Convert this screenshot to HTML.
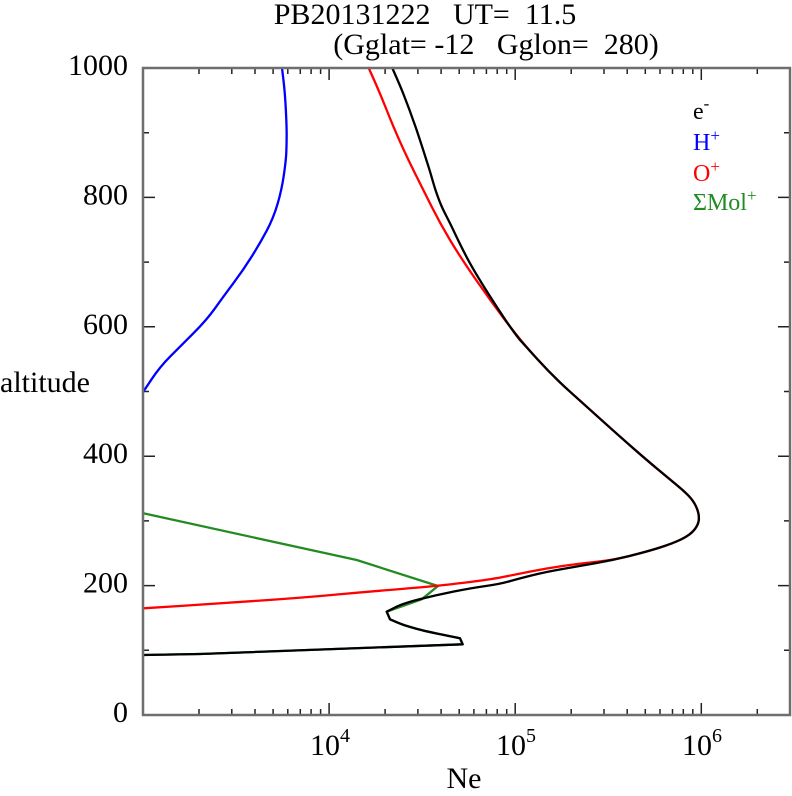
<!DOCTYPE html>
<html><head><meta charset="utf-8"><style>
html,body{margin:0;padding:0;background:#fff;}
svg{display:block;}
text{font-family:"Liberation Serif","Times New Roman",serif;fill:#000;}
</style></head><body>
<svg width="792" height="796" viewBox="0 0 792 796" xmlns="http://www.w3.org/2000/svg">
<rect width="792" height="796" fill="#fff"/>
<!-- titles -->
<text x="425" y="24" font-size="30" text-anchor="middle" style="white-space:pre">PB20131222   UT=  11.5</text>
<text x="496" y="54" font-size="30" text-anchor="middle" style="white-space:pre">(Gglat= -12   Gglon=  280)</text>

<!-- ticks -->
<g stroke="#222" stroke-width="1.5" fill="none">
<path d="M199 715v-6M231.8 715v-6M255 715v-6M273.1 715v-6M287.8 715v-6M300.3 715v-6M311.1 715v-6M320.6 715v-6
M385.1 715v-6M417.9 715v-6M441.1 715v-6M459.2 715v-6M473.9 715v-6M486.4 715v-6M497.2 715v-6M506.7 715v-6
M571.2 715v-6M604 715v-6M627.2 715v-6M645.3 715v-6M660 715v-6M672.5 715v-6M683.3 715v-6M692.8 715v-6M757.3 715v-6
M199 68v6M231.8 68v6M255 68v6M273.1 68v6M287.8 68v6M300.3 68v6M311.1 68v6M320.6 68v6
M385.1 68v6M417.9 68v6M441.1 68v6M459.2 68v6M473.9 68v6M486.4 68v6M497.2 68v6M506.7 68v6
M571.2 68v6M604 68v6M627.2 68v6M645.3 68v6M660 68v6M672.5 68v6M683.3 68v6M692.8 68v6M757.3 68v6"/>
<path d="M329.1 715v-12M515.2 715v-12M701.3 715v-12M329.1 68v12M515.2 68v12M701.3 68v12"/>
<path d="M143 650.3h6M143 520.9h6M143 391.5h6M143 262.1h6M143 132.7h6
M790 650.3h-6M790 520.9h-6M790 391.5h-6M790 262.1h-6M790 132.7h-6"/>
<path d="M143 585.6h12M143 456.2h12M143 326.8h12M143 197.4h12
M790 585.6h-12M790 456.2h-12M790 326.8h-12M790 197.4h-12"/>
</g>

<!-- curves -->
<g fill="none" stroke-width="2.3" stroke-linejoin="round" stroke-linecap="round">
<path stroke="#0000ff" d="M282,68 L283.5,80.5 Q285,93 285.85,109.85 Q286.7,126.7 286.65,135.85 Q286.6,145 286.3,152.5 Q286,160 283.85,175 Q281.7,190 277.5,204.15 Q273.3,218.3 266.65,230.8 Q260,243.3 251.65,256.65 Q243.3,270 233.3,283.35 Q223.3,296.7 215,308.35 Q206.7,320 193.35,333.35 Q180,346.7 170,356.7 Q160,366.7 151.65,379.2 L143.3,391.7"/>
<polyline stroke="#228b22" points="143.3,513.3 356.7,560 438,586 421.7,599.3 386.7,611.7 390,619.3 403.3,625 423.3,630.7 460,638.3 462.7,644.3 200,654 143.3,655"/>
<path stroke="#ff0000" d="M368.7,68 L374.35,80.65 Q380,93.3 386.65,110 Q393.3,126.7 400,141.7 Q406.7,156.7 415,173.35 Q423.3,190 431.65,206.65 Q440,223.3 450,240 Q460,256.7 475,278.35 Q490,300 505,320 Q520,340 536.65,358.35 Q553.3,376.7 570,391.7 Q586.7,406.7 603.35,421.7 Q620,436.7 633.35,448.35 Q646.7,460 656.7,468.35 Q666.7,476.7 676.7,485 Q686.7,493.3 690.85,498.3 Q695,503.3 697.15,509.15 Q699.3,515 698.8,520 Q698.3,525 694.15,530 Q690,535 681.65,539.15 Q673.3,543.3 660,547.5 Q646.7,551.7 630,555.85 Q613.3,560 596.65,561.75 Q580,563.5 563.35,565.9 Q546.7,568.3 530,571.65 Q513.3,575 501.65,577.25 Q490,579.5 463.85,582.75 Q437.7,586 403.85,588.75 Q370,591.5 338.35,594.4 Q306.7,597.3 263.35,600.4 Q220,603.5 181.65,605.9 L143.3,608.3"/>
<path stroke="#000" d="M392.3,68 C394.08,72.17 399.13,83.22 403,93 C406.87,102.78 411.25,114.42 415.5,126.7 C419.75,138.98 425.17,156.15 428.5,166.7 C431.83,177.25 433.33,183.45 435.5,190 C437.67,196.55 439.08,200.45 441.5,206 C443.92,211.55 445.25,213.75 450,223.3 C454.75,232.85 462.22,249.4 470,263.3 C477.78,277.2 488.37,293.92 496.7,306.7 C505.03,319.48 510.57,328.33 520,340 L536.65,358.35 Q553.3,376.7 570,391.7 Q586.7,406.7 603.35,421.7 Q620,436.7 633.35,448.35 Q646.7,460 656.7,468.35 Q666.7,476.7 676.7,485 Q686.7,493.3 690.85,498.3 Q695,503.3 697.15,509.15 Q699.3,515 698.8,520 Q698.3,525 694.15,530 Q690,535 681.65,539.15 Q673.3,543.3 660,547.5 Q646.7,551.7 630,555.85 Q613.3,560 596.65,563 Q580,566 563.35,568.85 Q546.7,571.7 533.35,575 Q520,578.3 510,581.15 Q500,584 485,586.15 Q470,588.3 453.35,591.65 Q436.7,595 420,599.15 Q403.3,603.3 395,607.5 L386.7,611.7 L390,619.3 L396.6,622.15 Q403.3,625 413.3,627.85 Q423.3,630.7 441.65,634.5 L460,638.3 L462.7,644.3 L200,654 L143.3,655"/>
</g>

<!-- frame -->
<rect x="143" y="68" width="647" height="647" fill="none" stroke="#6e6e6e" stroke-width="2.5"/>

<!-- y labels -->
<g font-size="30" text-anchor="end">
<text x="128" y="722">0</text>
<text x="128" y="592.6">200</text>
<text x="128" y="463.2">400</text>
<text x="128" y="333.8">600</text>
<text x="128" y="204.4">800</text>
<text x="128" y="75">1000</text>
</g>
<text x="0" y="392" font-size="30">altitude</text>

<!-- x labels -->
<g font-size="30" text-anchor="middle">
<text x="330" y="755">10<tspan font-size="20" dy="-13">4</tspan></text>
<text x="516" y="755">10<tspan font-size="20" dy="-13">5</tspan></text>
<text x="702" y="755">10<tspan font-size="20" dy="-13">6</tspan></text>
</g>
<text x="464" y="788" font-size="30" text-anchor="middle">Ne</text>

<!-- legend -->
<g font-size="24">
<text x="693" y="119" style="fill:#000">e<tspan font-size="17" dy="-10">-</tspan></text>
<text x="693" y="150" style="fill:#0000ff">H<tspan font-size="17" dy="-9">+</tspan></text>
<text x="693" y="181" style="fill:#ff0000">O<tspan font-size="17" dy="-9">+</tspan></text>
<text x="693" y="210" style="fill:#228b22">ΣMol<tspan font-size="17" dy="-9">+</tspan></text>
</g>
</svg>
</body></html>
